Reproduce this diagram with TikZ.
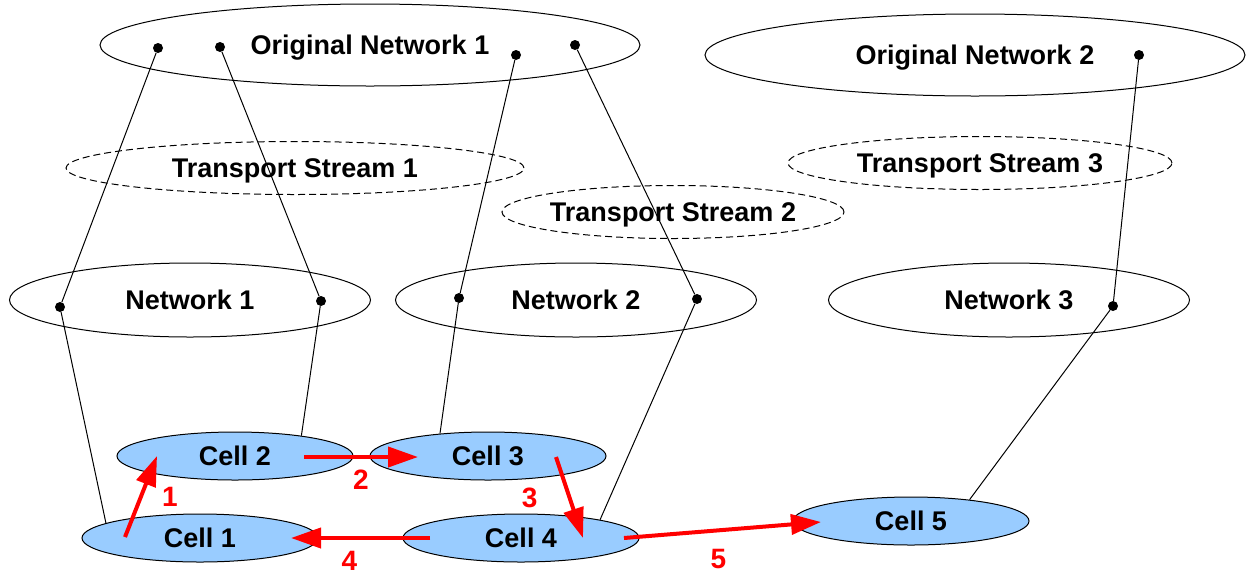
\documentclass[tikz,border=0pt]{standalone}
\usepackage{fontspec}
\setmainfont{Liberation Sans}
\usetikzlibrary{shapes.geometric,arrows.meta}
\definecolor{cellblue}{RGB}{153,204,255}
\tikzset{
  shape base/.style={ellipse, draw, line width=1pt, text height=19pt, text depth=0pt},
  orig/.style={shape base, minimum width=540pt, minimum height=82pt},
  stream/.style={shape base, inner xsep=-6pt, dash pattern=on 7pt off 4pt, minimum height=53pt},
  netw/.style={shape base, minimum width=361pt, minimum height=74pt},
  cellnode/.style={shape base, fill=cellblue, minimum width=236pt, minimum height=48pt},
  dot/.style={circle, fill, inner sep=0pt, minimum size=10pt},
  link/.style={line width=1pt},
  flow/.style={draw=red, line width=4pt, -{Triangle[length=30pt,width=20pt]}},
  num/.style={text=red, inner sep=0pt, font=\fontsize{28}{32}\selectfont\bfseries}
}
\begin{document}
\begin{tikzpicture}[x=1pt, y=-1pt, font=\fontsize{27}{32}\selectfont\bfseries]
  \useasboundingbox (0,0) rectangle (1247,574);

  % ellipses
  \node[orig] (on1) at (370,45) {Original Network 1};
  \node[orig] (on2) at (975,55) {Original Network 2};
  \node[stream, minimum width=458pt] (ts1) at (295,168) {Transport Stream 1};
  \node[stream, minimum width=342pt] (ts2) at (673,212) {Transport Stream 2};
  \node[stream, minimum width=384pt] (ts3) at (980,163) {Transport Stream 3};
  \node[netw] (net1) at (190,300) {Network 1};
  \node[netw] (net2) at (576,300) {Network 2};
  \node[netw] (net3) at (1009,300) {Network 3};

  % cells
  \node[cellnode] (cell2) at (235,456) {Cell 2};
  \node[cellnode] (cell3) at (488,456) {Cell 3};
  \node[cellnode] (cell1) at (200,538) {Cell 1};
  \node[cellnode] (cell4) at (521,538) {Cell 4};
  \node[cellnode] (cell5) at (911,521) {Cell 5};

  % dots
  \node[dot] (o1a) at (158,48) {};
  \node[dot] (o1b) at (220,47) {};
  \node[dot] (o1c) at (516,55) {};
  \node[dot] (o1d) at (575,45) {};
  \node[dot] (o2a) at (1139,55) {};
  \node[dot] (n1a) at (60,307) {};
  \node[dot] (n1b) at (321,301) {};
  \node[dot] (n2a) at (459,298) {};
  \node[dot] (n2b) at (697,299) {};
  \node[dot] (n3a) at (1113,306) {};

  % links
  \draw[link] (o1a) -- (n1a) -- (cell1.171);
  \draw[link] (o1b) -- (n1b) -- (cell2.17);
  \draw[link] (o1c) -- (n2a) -- (cell3.155);
  \draw[link] (o1d) -- (n2b) -- (cell4.13);
  \draw[link] (o2a) -- (n3a) -- (cell5.20);

  % handover path
  \coordinate (t1) at (125,537);
  \coordinate (h1) at (157,456);
  \coordinate (t2) at (304,457);
  \coordinate (h2) at (418,457);
  \coordinate (t3) at (556,457);
  \coordinate (h3) at (583,538);
  \coordinate (t4) at (430,538);
  \coordinate (h4) at (291,538);
  \coordinate (t5) at (624,538);
  \coordinate (h5) at (821,522);
  \draw[flow] (t1) -- node[num, right=19pt] {1} (h1);
  \draw[flow] (t2) -- node[num, below=11pt] {2} (h2);
  \draw[flow] (t3) -- node[num, left=30pt] {3} (h3);
  \draw[flow] (t4) -- node[num, below=11pt, xshift=-11pt] {4} (h4);
  \draw[flow] (t5) -- node[num, below=17pt, xshift=-4pt] {5} (h5);
\end{tikzpicture}
\end{document}
